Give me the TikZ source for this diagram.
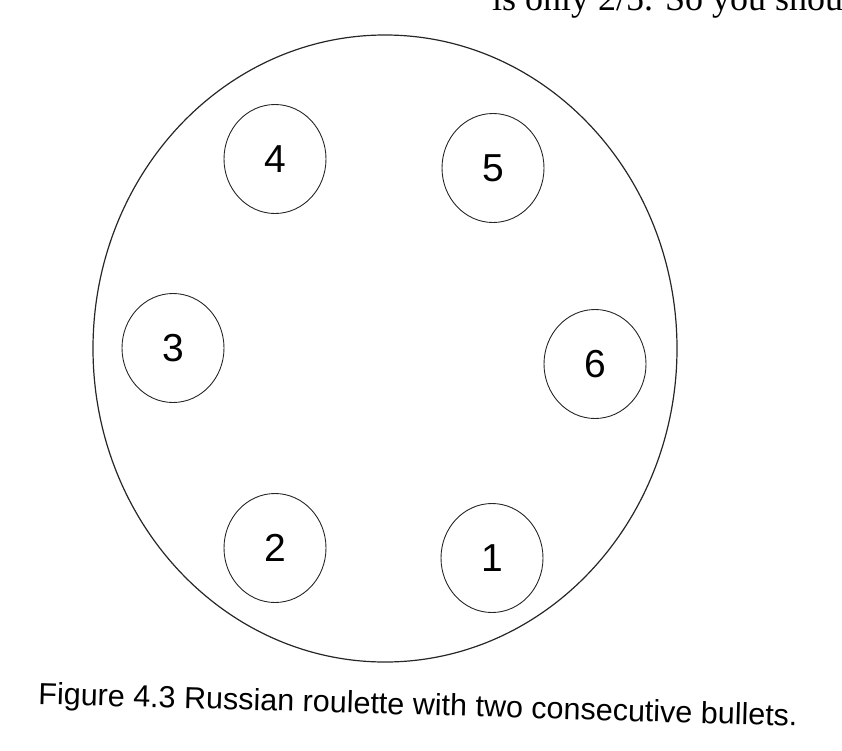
\documentclass[tikz,border=0pt]{standalone}
\usepackage{fontspec}
\setmainfont{Liberation Serif}
\newfontfamily\arialf{Liberation Sans}
\usetikzlibrary{shapes.geometric}
\begin{document}
\begin{tikzpicture}[x=1pt,y=-1pt,
  chamber/.style={ellipse, draw=black!85, line width=0.9pt, minimum width=102pt, minimum height=109pt, inner sep=0pt, font=\arialf\fontsize{39}{39}\selectfont},
  drum/.style={ellipse, draw=black!85, line width=1.2pt, minimum width=584pt, minimum height=627pt, inner sep=0pt},
  captext/.style={inner sep=0pt, font=\arialf\fontsize{30.5}{36}\selectfont},
  bodytext/.style={inner sep=0pt, font=\fontsize{36}{40}\selectfont}]
\useasboundingbox (0,0) rectangle (842,750);
\clip (0,0) rectangle (842,750);
\node[drum] (cyl) at (385,348.5) {};
\node[chamber] (c1) at (492,558) {1};
\node[chamber] (c2) at (275,548) {2};
\node[chamber] (c3) at (173,348) {3};
\node[chamber] (c4) at (275,159) {4};
\node[chamber] (c5) at (493,168) {5};
\node[chamber] (c6) at (595,364) {6};
\node[captext, anchor=base west, rotate=-1.66] (cap) at (38,704) {Figure 4.3 Russian roulette with two consecutive bullets.};
\node[bodytext, anchor=base west] (prev) at (492,10) {is only 2/5. So you shou};
\end{tikzpicture}
\end{document}
